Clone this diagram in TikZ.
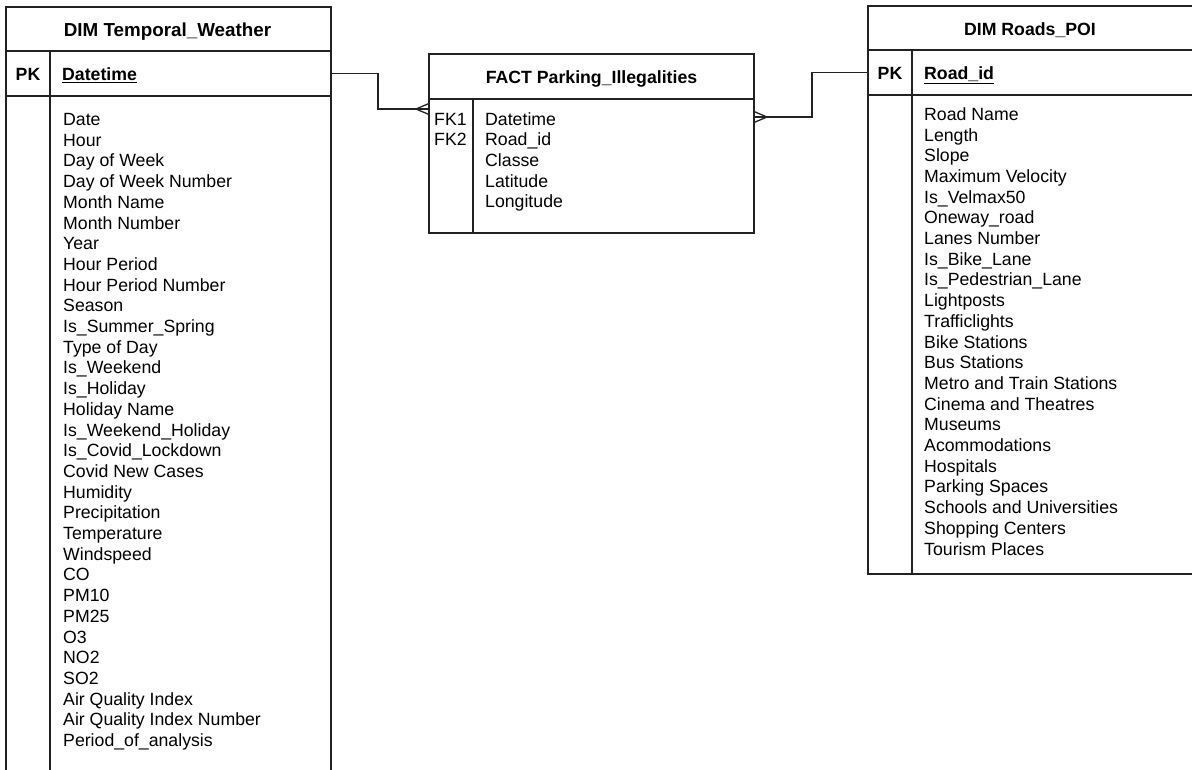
\documentclass[tikz,border=0pt]{standalone}
\usepackage{fontspec}
\setmainfont{Liberation Sans}
\begin{document}
\begin{tikzpicture}[x=1pt,y=-1pt,
  cell/.style={draw=linec, line width=1.3pt, rectangle, inner sep=0pt, outer sep=0pt, anchor=north west},
  txt/.style={anchor=base west, inner sep=0pt, text=black, font=\fontsize{17.7}{21}\selectfont},
  ttl/.style={anchor=base, inner sep=0pt, text=black, font=\fontsize{17.7}{21}\selectfont\bfseries},
  pk/.style={anchor=base, inner sep=0pt, text=black, font=\fontsize{17.7}{21}\selectfont\bfseries},
  conn/.style={draw=linec, line width=1.3pt}]
\definecolor{linec}{HTML}{222222}
\useasboundingbox (0,0) rectangle (1192,769);
\clip (0,0) rectangle (1192,769);
\fill[white] (0,0) rectangle (1192,769);

% ---- Left table: DIM Temporal_Weather
\node[cell, minimum width=325pt, minimum height=44pt] (lhead) at (6,7) {};
\node[cell, minimum width=44pt, minimum height=45pt] (lpkk) at (6,51) {};
\node[cell, minimum width=281pt, minimum height=45pt] (lpkv) at (50,51) {};
\node[cell, minimum width=44pt, minimum height=700pt] (lbk) at (6,96) {};
\node[cell, minimum width=281pt, minimum height=700pt] (lbv) at (50,96) {};
\node[ttl, font=\fontsize{18.8}{22}\selectfont\bfseries] (ltitle) at (167.5,36.6) {DIM Temporal\_Weather};
\node[pk] (lpklbl) at (28,80.3) {PK};
\node[txt, font=\fontsize{17.7}{21}\selectfont\bfseries] (lpkname) at (62,80.3) {\underline{Datetime}};
\foreach \t [count=\i from 0] in {Date,Hour,Day of Week,Day of Week Number,Month Name,Month Number,Year,Hour Period,Hour Period Number,Season,Is\_Summer\_Spring,Type of Day,Is\_Weekend,Is\_Holiday,Holiday Name,Is\_Weekend\_Holiday,Is\_Covid\_Lockdown,Covid New Cases,Humidity,Precipitation,Temperature,Windspeed,CO,PM10,PM25,O3,NO2,SO2,Air Quality Index,Air Quality Index Number,Period\_of\_analysis}
  \node[txt] (lrow\i) at (63,125.5+20.7*\i) {\t};

% ---- Fact table
\node[cell, minimum width=325pt, minimum height=45pt] (fhead) at (429,54) {};
\node[cell, minimum width=44pt, minimum height=134pt] (fbk) at (429,99) {};
\node[cell, minimum width=281pt, minimum height=134pt] (fbv) at (473,99) {};
\node[ttl] (ftitle) at (591.5,83.3) {FACT Parking\_Illegalities};
\node[txt] (fk1) at (434,125.3) {FK1};
\node[txt] (fk2) at (434,145.9) {FK2};
\foreach \t [count=\i from 0] in {Datetime,Road\_id,Classe,Latitude,Longitude}
  \node[txt] (frow\i) at (485,125.3+20.6*\i) {\t};

% ---- Right table: DIM Roads_POI
\node[cell, minimum width=325pt, minimum height=44pt] (rhead) at (868,6) {};
\node[cell, minimum width=44pt, minimum height=45pt] (rpkk) at (868,50) {};
\node[cell, minimum width=281pt, minimum height=45pt] (rpkv) at (912,50) {};
\node[cell, minimum width=44pt, minimum height=479pt] (rbk) at (868,95) {};
\node[cell, minimum width=281pt, minimum height=479pt] (rbv) at (912,95) {};
\node[ttl] (rtitle) at (1030,35.3) {DIM Roads\_POI};
\node[pk] (rpklbl) at (890,79.3) {PK};
\node[txt, font=\fontsize{17.7}{21}\selectfont\bfseries] (rpkname) at (924,79.3) {\underline{Road\_id}};
\foreach \t [count=\i from 0] in {Road Name,Length,Slope,Maximum Velocity,Is\_Velmax50,Oneway\_road,Lanes Number,Is\_Bike\_Lane,Is\_Pedestrian\_Lane,Lightposts,Trafficlights,Bike Stations,Bus Stations,Metro and Train Stations,Cinema and Theatres,Museums,Acommodations,Hospitals,Parking Spaces,Schools and Universities,Shopping Centers,Tourism Places}
  \node[txt] (rrow\i) at (924,120.3+20.7*\i) {\t};

% ---- Connectors
\coordinate (f1) at (429,109);
\coordinate (f2) at (754,117);
\draw[conn] (lpkv.east) -- ++(47,0) |- (f1);
\draw[conn] (416,109) -- (429,103.5) (416,109) -- (429,114.5);
\draw[conn] (f2) -- ++(58,0) |- (rpkk.west);
\draw[conn] (767,117) -- (754,111.5) (767,117) -- (754,122.5);
\end{tikzpicture}
\end{document}
